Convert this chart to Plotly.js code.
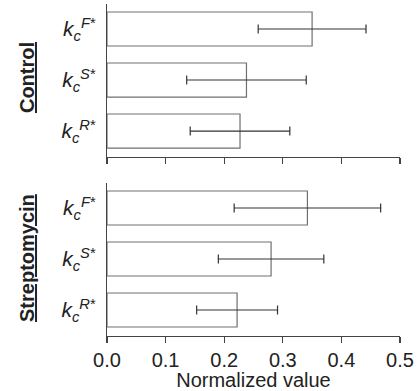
<!DOCTYPE html>
<html>
<head>
<meta charset="utf-8">
<script src="https://cdn.plot.ly/plotly-3.0.1.min.js"></script>
<style>html,body{margin:0;padding:0;background:#fff;}#chart{width:417px;height:391px;}</style>
</head>
<body>
<div id="chart"></div>
<script>
var categories = ['R', 'S', 'F'];
var categoryLabels = [
  '<i>k</i><sub><i>c</i></sub><sup><i>R</i>*</sup>',
  '<i>k</i><sub><i>c</i></sub><sup><i>S</i>*</sup>',
  '<i>k</i><sub><i>c</i></sub><sup><i>F</i>*</sup>'
];
var groupNames = ['Control', 'Streptomycin'];
var controlValues = [0.227, 0.238, 0.350];
var controlErrors = [0.085, 0.102, 0.092];
var streptoValues = [0.222, 0.280, 0.342];
var streptoErrors = [0.069, 0.090, 0.125];
var xTickVals = [0, 0.1, 0.2, 0.3, 0.4, 0.5];
var xTickText = ['0.0', '0.1', '0.2', '0.3', '0.4', '0.5'];

var FONT = 'Liberation Sans, Arial, Helvetica, sans-serif';
var barStyle = {color: '#ffffff', line: {color: '#707070', width: 1.2}};
var errStyle = function (arr) {
  return {type: 'data', array: arr, visible: true, color: '#333333', thickness: 1.2, width: 4.5};
};

var traces = [
  {type: 'bar', orientation: 'h', x: controlValues, y: categories, xaxis: 'x2', yaxis: 'y2',
   marker: barStyle, error_x: errStyle(controlErrors), hoverinfo: 'skip'},
  {type: 'bar', orientation: 'h', x: streptoValues, y: categories, xaxis: 'x', yaxis: 'y',
   marker: barStyle, error_x: errStyle(streptoErrors), hoverinfo: 'skip'}
];

function yAxis(domain, anchor) {
  return {
    domain: domain, anchor: anchor, type: 'category',
    categoryorder: 'array', categoryarray: categories,
    tickvals: categories, ticktext: categoryLabels,
    range: [-0.51, 2.49], showline: true, linecolor: '#444', linewidth: 1.2,
    ticks: '', showgrid: false, zeroline: false, ticklabelstandoff: 6,
    tickfont: {family: FONT, size: 21, color: '#222'}
  };
}
function xAxis(anchor, labels) {
  return {
    anchor: anchor, range: [0, 0.5], tickvals: xTickVals, ticktext: xTickText,
    showticklabels: labels, ticks: 'outside', ticklen: 6, tickwidth: 1.2, tickcolor: '#444',
    showline: true, linecolor: '#444', linewidth: 1.2, showgrid: false, zeroline: false,
    tickfont: {family: FONT, size: 20, color: '#222'}
  };
}

var xa = xAxis('y', true);
xa.title = {text: 'Normalized value', font: {family: FONT, size: 20, color: '#222'}, standoff: 3};

var layout = {
  width: 417, height: 391,
  margin: {l: 107, r: 17, t: 4, b: 55},
  paper_bgcolor: '#fff', plot_bgcolor: '#fff',
  showlegend: false, bargap: 0.333,
  xaxis: xa,
  xaxis2: xAxis('y2', false),
  yaxis: yAxis([0, 0.4608], 'x'),
  yaxis2: yAxis([0.539, 1], 'x2'),
  annotations: [
    {text: '<b><u>' + groupNames[0] + '</u></b>', xref: 'paper', yref: 'paper', x: -0.273, y: 0.777,
     xanchor: 'center', yanchor: 'middle', textangle: -90, showarrow: false,
     font: {family: FONT, size: 20, color: '#222'}},
    {text: '<b><u>' + groupNames[1] + '</u></b>', xref: 'paper', yref: 'paper', x: -0.273, y: 0.235,
     xanchor: 'center', yanchor: 'middle', textangle: -90, showarrow: false,
     font: {family: FONT, size: 20, color: '#222'}}
  ]
};

Plotly.newPlot('chart', traces, layout, {staticPlot: true, displayModeBar: false});
</script>
</body>
</html>
